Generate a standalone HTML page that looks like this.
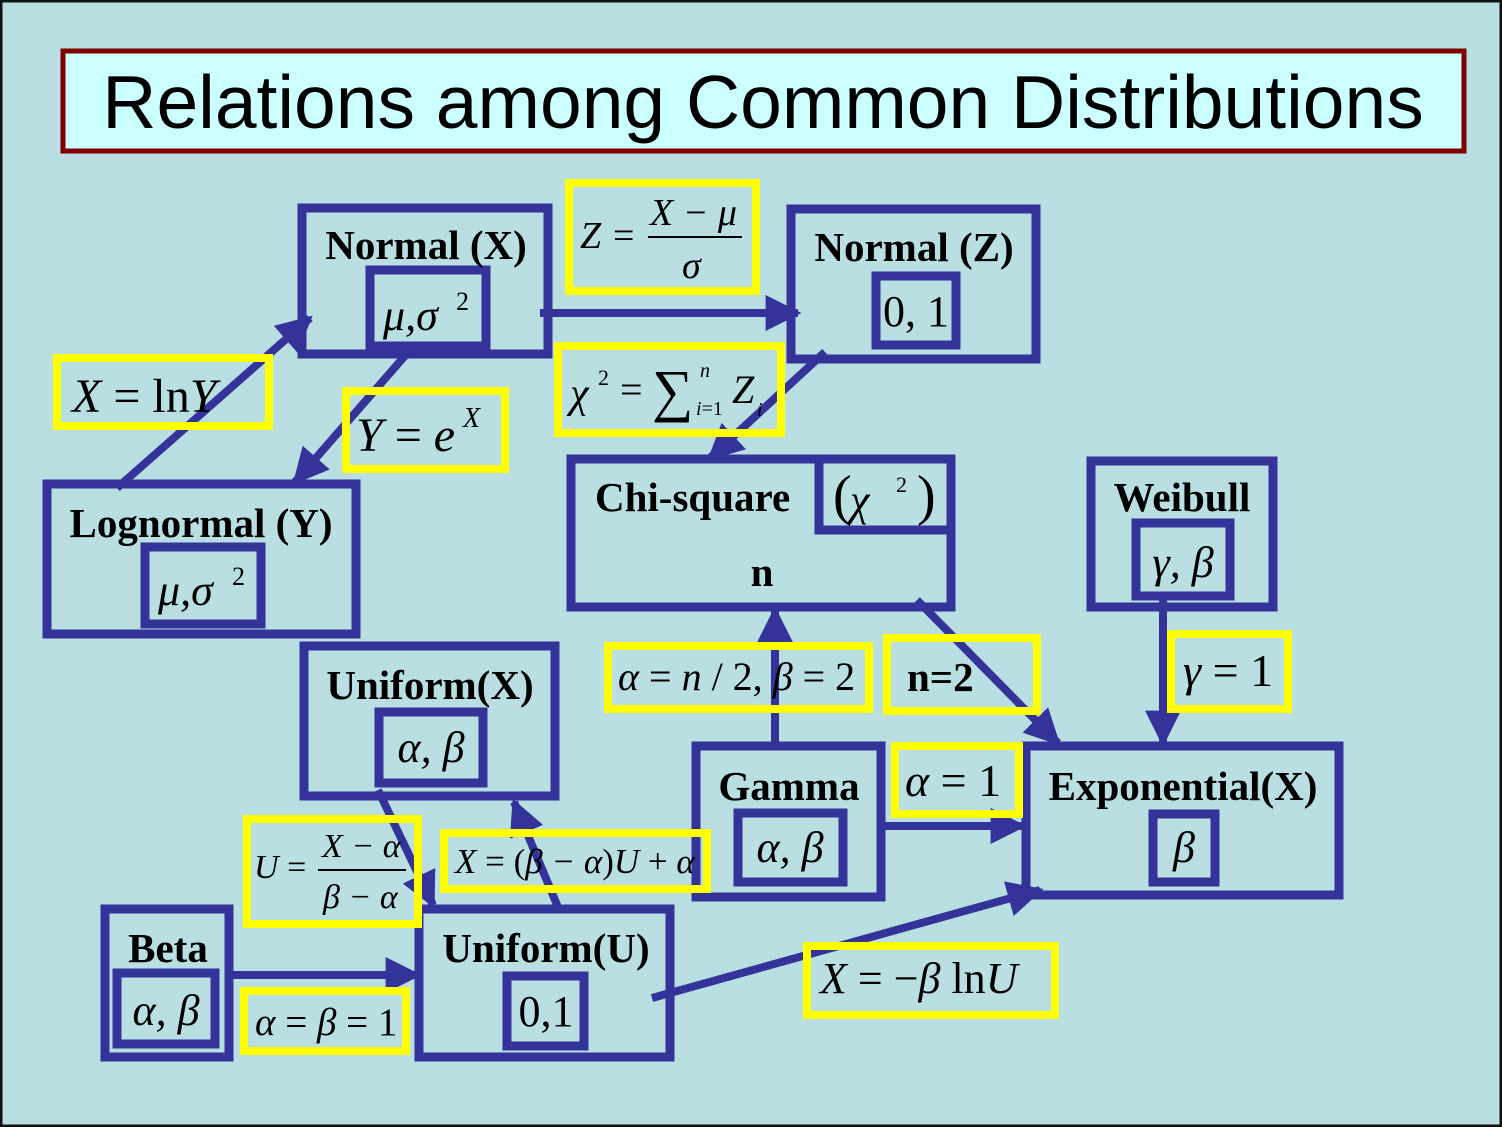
<!DOCTYPE html>
<html><head><meta charset="utf-8"><style>
html,body{margin:0;padding:0;background:#B9DFE3;}
svg{display:block}
.t{font-family:"Liberation Serif",serif;font-weight:bold;font-size:41px;fill:#000}
.m{font-family:"Liberation Serif",serif;font-style:italic;font-size:44px;fill:#000}
.r{font-family:"Liberation Serif",serif;font-style:normal;font-size:44px;fill:#000}
</style></head><body>
<svg width="1502" height="1127" viewBox="0 0 1502 1127" xmlns="http://www.w3.org/2000/svg">
<defs><marker id="a" viewBox="0 0 10 10" refX="9" refY="5" markerWidth="4.5" markerHeight="4.5" orient="auto" markerUnits="strokeWidth"><path d="M0,0L10,5L0,10z" fill="#333399"/></marker></defs>
<rect x="1" y="1" width="1500" height="1125" fill="#B9DFE3" stroke="#111" stroke-width="3"/>
<rect x="63" y="51" width="1401" height="100" fill="#CCFFFF" stroke="#800000" stroke-width="5"/>
<text x="763" y="128" text-anchor="middle" font-family="Liberation Sans,sans-serif" font-size="75" fill="#000">Relations among Common Distributions</text>
<g fill="none" stroke="#333399" stroke-width="8" marker-end="url(#a)">
<line x1="117" y1="488" x2="310" y2="318"/>
<line x1="410" y1="350" x2="295" y2="482"/>
<line x1="540" y1="313" x2="798" y2="313"/>
<line x1="825" y1="352" x2="710" y2="458"/>
<line x1="775" y1="745" x2="775" y2="610"/>
<line x1="917" y1="600" x2="1058" y2="743"/>
<line x1="1163" y1="600" x2="1163" y2="743"/>
<line x1="882" y1="826" x2="1023" y2="826"/>
<line x1="652" y1="998" x2="1040" y2="890"/>
<line x1="378" y1="790" x2="433" y2="905"/>
<line x1="560" y1="912" x2="514" y2="802"/>
<line x1="230" y1="975" x2="418" y2="975"/>
</g>
<g fill="none" stroke="#333399" stroke-width="9">
<rect x="302" y="208" width="246" height="146"/><rect x="370" y="270" width="116" height="76"/>
<rect x="791" y="209" width="245" height="150"/><rect x="876" y="276" width="80" height="69"/>
<rect x="47" y="484" width="309" height="150"/><rect x="145" y="547" width="116" height="77"/>
<rect x="571" y="459" width="380" height="148"/><rect x="819" y="459" width="132" height="71"/>
<rect x="1091" y="461" width="182" height="146"/><rect x="1136" y="523" width="94" height="73"/>
<rect x="304" y="646" width="251" height="150"/><rect x="379" y="712" width="104" height="71"/>
<rect x="696" y="746" width="185" height="151"/><rect x="738" y="813" width="105" height="69"/>
<rect x="1026" y="746" width="313" height="149"/><rect x="1153" y="814" width="62" height="68"/>
<rect x="105" y="909" width="124" height="148"/><rect x="117" y="973" width="98" height="71"/>
<rect x="419" y="909" width="251" height="148"/><rect x="507" y="976" width="77" height="70"/>
</g>
<g fill="none" stroke="#FFFF00" stroke-width="8">
<rect x="569" y="183" width="187" height="108"/>
<rect x="57" y="358" width="212" height="68"/>
<rect x="346" y="391" width="159" height="78"/>
<rect x="558" y="346" width="223" height="87"/>
<rect x="608" y="646" width="261" height="63"/>
<rect x="887" y="638" width="150" height="73"/>
<rect x="1171" y="634" width="117" height="75"/>
<rect x="895" y="746" width="124" height="68"/>
<rect x="247" y="819" width="171" height="105"/>
<rect x="444" y="833" width="263" height="56"/>
<rect x="244" y="991" width="162" height="60"/>
<rect x="807" y="946" width="248" height="69"/>
</g>
<text class="t" x="426" y="259" text-anchor="middle">Normal (X)</text>
<text class="m" x="383" y="330">μ,σ</text><text class="r" x="456" y="310" style="font-size:26px">2</text>
<text class="t" x="914" y="261" text-anchor="middle">Normal (Z)</text>
<text class="r" x="916" y="326" text-anchor="middle">0, 1</text>
<text class="t" x="201" y="537" text-anchor="middle">Lognormal (Y)</text>
<text class="m" x="158" y="605">μ,σ</text><text class="r" x="232" y="585" style="font-size:26px">2</text>
<text class="t" x="595" y="511">Chi-square</text><text class="t" x="762" y="586" text-anchor="middle">n</text>
<text class="r" x="833" y="514" style="font-size:56px">(</text><text class="m" x="850" y="515">χ</text><text class="r" x="896" y="492" style="font-size:22px">2</text><text class="r" x="917" y="514" style="font-size:56px">)</text>
<text class="t" x="1182" y="511" text-anchor="middle">Weibull</text>
<text class="m" x="1183" y="577" text-anchor="middle">γ, β</text>
<text class="t" x="430" y="699" text-anchor="middle">Uniform(X)</text>
<text class="m" x="431" y="762" text-anchor="middle">α, β</text>
<text class="t" x="789" y="800" text-anchor="middle">Gamma</text>
<text class="m" x="790" y="862" text-anchor="middle">α, β</text>
<text class="t" x="1183" y="800" text-anchor="middle">Exponential(X)</text>
<text class="m" x="1184" y="862" text-anchor="middle">β</text>
<text class="t" x="168" y="962" text-anchor="middle">Beta</text>
<text class="m" x="166" y="1025" text-anchor="middle">α, β</text>
<text class="t" x="546" y="962" text-anchor="middle">Uniform(U)</text>
<text class="r" x="546" y="1026" text-anchor="middle">0,1</text>
<text class="m" x="580" y="248" style="font-size:38px">Z</text><text class="r" x="613" y="248" style="font-size:38px">=</text>
<text class="m" x="650" y="225" style="font-size:38px">X − μ</text><line x1="648" y1="237" x2="742" y2="237" stroke="#000" stroke-width="2"/><text class="m" x="682" y="278" style="font-size:38px">σ</text>
<text class="m" x="72" y="412" style="font-size:48px">X <tspan class="r" style="font-size:48px">= ln</tspan>Y</text>
<text class="m" x="356" y="451" style="font-size:48px">Y <tspan class="r" style="font-size:48px">=</tspan> e</text><text class="m" x="463" y="427" style="font-size:28px">X</text>
<text class="m" x="570" y="407" style="font-size:42px">χ</text><text class="r" x="598" y="385" style="font-size:22px">2</text>
<text class="r" x="620" y="403" style="font-size:40px">=</text>
<text class="r" x="652" y="410" style="font-size:58px">∑</text>
<text class="m" x="700" y="377" style="font-size:20px">n</text><text class="m" x="696" y="415" style="font-size:20px">i<tspan class="r" style="font-size:20px">=1</tspan></text>
<text class="m" x="732" y="403" style="font-size:40px">Z</text><text class="m" x="757" y="416" style="font-size:20px">i</text>
<text class="m" x="618" y="690" style="font-size:40px">α <tspan class="r" style="font-size:40px">=</tspan> n <tspan class="r" style="font-size:40px">/ 2,</tspan> β <tspan class="r" style="font-size:40px">= 2</tspan></text>
<text class="t" x="907" y="691">n=2</text>
<text class="m" x="1183" y="686" style="font-size:46px">γ <tspan class="r" style="font-size:46px">= 1</tspan></text>
<text class="m" x="905" y="796" style="font-size:46px">α <tspan class="r" style="font-size:46px">= 1</tspan></text>
<text class="m" x="254" y="878" style="font-size:34px">U <tspan class="r" style="font-size:34px">=</tspan></text>
<text class="m" x="322" y="857" style="font-size:34px">X − α</text><line x1="318" y1="870" x2="406" y2="870" stroke="#000" stroke-width="2"/><text class="m" x="323" y="908" style="font-size:34px">β − α</text>
<text class="m" x="455" y="873" style="font-size:35px">X <tspan class="r" style="font-size:35px">= (</tspan>β − α<tspan class="r" style="font-size:35px">)</tspan>U <tspan class="r" style="font-size:35px">+</tspan> α</text>
<text class="m" x="255" y="1035" style="font-size:39px">α <tspan class="r" style="font-size:39px">=</tspan> β <tspan class="r" style="font-size:39px">= 1</tspan></text>
<text class="m" x="820" y="993" style="font-size:44px">X <tspan class="r" style="font-size:44px">= −</tspan>β <tspan class="r" style="font-size:44px">ln</tspan>U</text>
</svg>
</body></html>
